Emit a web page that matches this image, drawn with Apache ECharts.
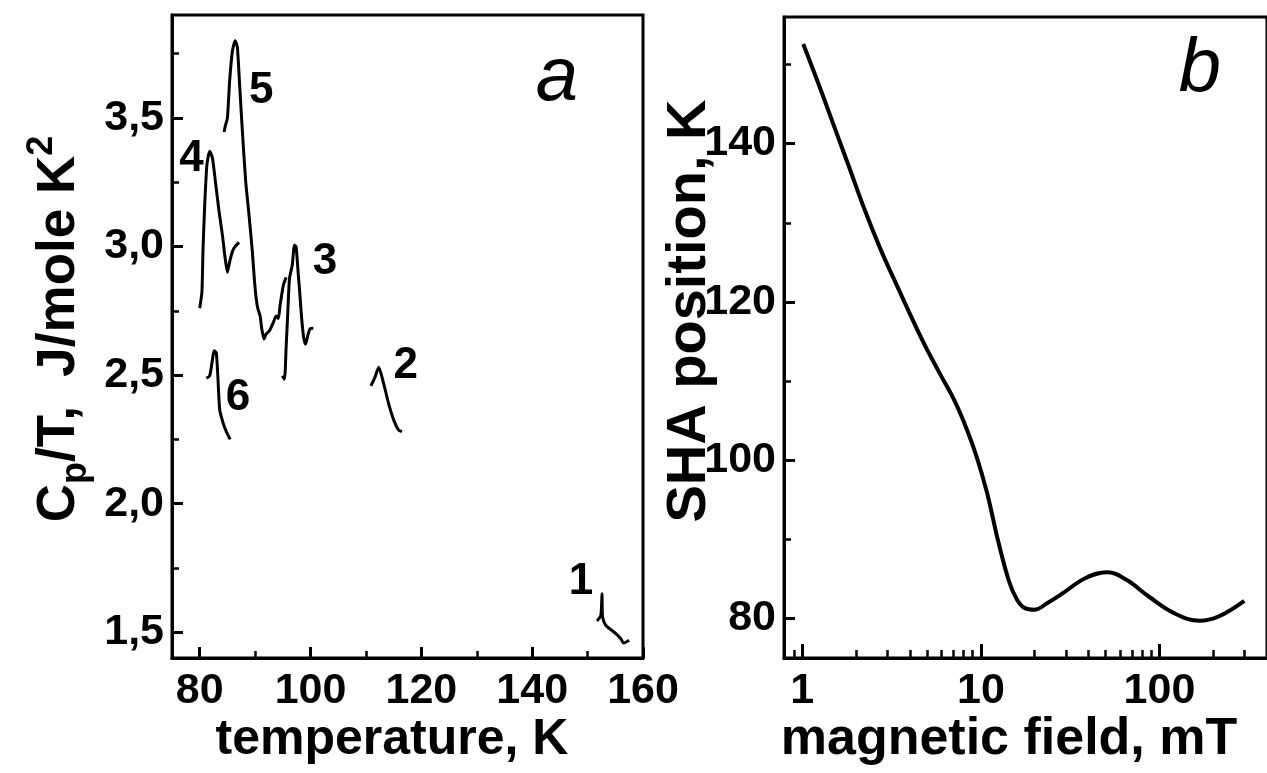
<!DOCTYPE html>
<html><head><meta charset="utf-8">
<script src="https://cdn.jsdelivr.net/npm/echarts@6/dist/echarts.min.js"></script>
<style>html,body{margin:0;padding:0;background:#fff}#c{width:1267px;height:773px}</style>
</head><body><div id="c"></div>
<script>
// ---- Panel a: Cp/T vs temperature ----
const c1T = [151.7,152.4,152.6,152.7,153.3,154.2,155.1,156.0,156.5,157.5];
const c1V = [1.544,1.566,1.65,1.56,1.527,1.51,1.495,1.475,1.458,1.469];
const c2T = [110.9,111.6,112.3,113.3,114.2,115.1,115.9,116.5];
const c2V = [2.458,2.49,2.53,2.458,2.38,2.32,2.286,2.28];
const c3T = [94.9,95.3,95.6,95.9,96.2,96.7,97.1,97.4,97.8,98.0,98.4,98.8,99.1,99.5,99.9,100.5];
const c3V = [2.497,2.484,2.61,2.745,2.875,2.927,3.005,2.999,2.888,2.836,2.72,2.64,2.62,2.653,2.68,2.682];
const c4T = [80.0,80.4,80.6,80.9,81.3,81.8,82.3,82.9,83.5,84.1,84.6,85.0,85.4,85.9,86.4,87.1];
const c4V = [2.76,2.823,2.99,3.16,3.318,3.37,3.344,3.24,3.135,3.044,2.953,2.90,2.94,2.98,3.0,3.016];
const c5T = [84.4,84.6,85.0,85.4,85.9,86.4,86.8,87.2,87.7,88.3,88.9,89.5,89.9,90.2,90.5,90.9,91.2,91.6,92.0,92.6,93.2,93.8,94.2,94.5,95.1,95.6];
const c5V = [3.445,3.467,3.50,3.643,3.76,3.80,3.773,3.63,3.448,3.253,3.122,2.98,2.862,2.797,2.758,2.73,2.68,2.64,2.66,2.673,2.70,2.73,2.72,2.77,2.85,2.88];
const c6T = [81.2,81.8,82.3,82.6,83.0,83.3,83.6,84.2,84.8,85.5];
const c6V = [2.488,2.497,2.56,2.595,2.586,2.484,2.367,2.315,2.28,2.25];
const curveNames = ['1','2','3','4','5','6'];
const labelT = [148.8,117.2,102.6,78.5,91.1,86.9];
const labelV = [1.695,2.536,2.94,3.34,3.607,2.41];
const tMajor = [80,100,120,140,160];
const tMinor = [90,110,130,150];
const cMajor = [1.5,2.0,2.5,3.0,3.5];
const cMinor = [1.75,2.25,2.75,3.25,3.75];

// ---- Panel b: SHA position vs magnetic field ----
const fieldB = [1.012,1.207,1.481,1.818,2.23,2.737,3.32,4.76,5.84,7.16,8.44,9.54,10.79,11.7,12.45,14.37,15.91,17.64,19.94,23.49,28.82,38.37,51.05,65.3,87.1,120.7,167.5,214.1,298.4];
const shaPos = [152.6,148.1,142.65,137.2,131.7,126.7,122.5,114.9,111.1,107.4,103.6,100.2,96.0,92.6,89.9,84.7,82.4,81.3,81.1,81.93,83.19,85.08,85.84,84.88,82.77,80.67,79.71,80.25,82.23];
const bMajor = [1,10,100];
const bMinor = [0.9,2,3,4,5,6,7,8,9,20,30,40,50,60,70,80,90,200,300,400];
const sMajor = [80,100,120,140];
const sMinor = [90,110,130,150];

const FF = 'Liberation Sans';
const zip = (a,b) => a.map((v,i)=>[v,b[i]]);
const curves = [[c1T,c1V],[c2T,c2V],[c3T,c3V],[c4T,c4V],[c5T,c5V],[c6T,c6V]];

function majorX(grid, type, min, max, ticks, len){
  return {gridIndex:grid, type:type, min:min, max:max, position:'bottom',
    axisLine:{onZero:false, lineStyle:{color:'#000', width:3}},
    axisTick:{inside:true, length:len, customValues:ticks, lineStyle:{color:'#000', width:3}},
    axisLabel:{customValues:ticks, color:'#000', fontFamily:FF, fontWeight:'bold', fontSize:43, margin:12, formatter:v=>String(v)},
    splitLine:{show:false}, minorTick:{show:false}};
}
function minorX(grid, type, min, max, ticks, len){
  return {gridIndex:grid, type:type, min:min, max:max, position:'bottom',
    axisLine:{show:false, onZero:false},
    axisTick:{inside:true, length:len, customValues:ticks, lineStyle:{color:'#000', width:2.5}},
    axisLabel:{show:false}, splitLine:{show:false}};
}
function majorY(grid, min, max, ticks, fmt, margin){
  return {gridIndex:grid, type:'value', min:min, max:max, position:'left',
    axisLine:{onZero:false, lineStyle:{color:'#000', width:3}},
    axisTick:{inside:true, length:11, customValues:ticks, lineStyle:{color:'#000', width:3}},
    axisLabel:{customValues:ticks, color:'#000', fontFamily:FF, fontWeight:'bold', fontSize:43, margin:margin, formatter:fmt},
    splitLine:{show:false}};
}
function minorY(grid, min, max, ticks){
  return {gridIndex:grid, type:'value', min:min, max:max, position:'left',
    axisLine:{show:false, onZero:false},
    axisTick:{inside:true, length:7, customValues:ticks, lineStyle:{color:'#000', width:2.5}},
    axisLabel:{show:false}, splitLine:{show:false}};
}

const series = curves.map((c,i)=>({
  type:'line', xAxisIndex:0, yAxisIndex:0, data:zip(c[0],c[1]), showSymbol:false, symbol:'none',
  smooth:0.2, lineStyle:{color:'#000', width:3}, z:3
}));
series.push({
  type:'scatter', xAxisIndex:0, yAxisIndex:0, symbolSize:0, itemStyle:{color:'#000', opacity:1},
  data: curveNames.map((n,i)=>({name:n, value:[labelT[i], labelV[i]]})),
  label:{show:true, position:[0,0], align:'center', verticalAlign:'middle', formatter:'{b}', color:'#000', opacity:1, fontFamily:FF, fontWeight:'bold', fontSize:44},
  emphasis:{disabled:true}, z:4
});
series.push({
  type:'line', xAxisIndex:2, yAxisIndex:2, data:zip(fieldB, shaPos), showSymbol:false, symbol:'none',
  smooth:0.4, lineStyle:{color:'#000', width:4}, z:3
});

const option = {
  animation:false,
  backgroundColor:'#fff',
  grid:[
    {left:172, top:15, width:471, height:643, show:true, borderColor:'#000', borderWidth:3, backgroundColor:'transparent'},
    {left:784, top:17, width:507, height:641, show:true, borderColor:'#000', borderWidth:3, backgroundColor:'transparent'}
  ],
  xAxis:[
    majorX(0,'value',75,160,tMajor,11),
    minorX(0,'value',75,160,tMinor,7),
    majorX(1,'log',0.79,400,bMajor,14),
    minorX(1,'log',0.79,400,bMinor,8)
  ],
  yAxis:[
    majorY(0,1.4,3.9,cMajor, v=>v.toFixed(1).replace('.',','), 8),
    minorY(0,1.4,3.9,cMinor),
    majorY(1,75,156,sMajor, v=>String(v), 8),
    minorY(1,75,156,sMinor)
  ],
  series:series,
  graphic:[
    {type:'text', x:557, y:79, style:{text:'a', fill:'#000', font:'italic 76px "Liberation Sans"', align:'center', verticalAlign:'middle'}},
    {type:'text', x:1200, y:70, style:{text:'b', fill:'#000', font:'italic 76px "Liberation Sans"', align:'center', verticalAlign:'middle'}},
    {type:'text', x:392, y:740, style:{text:'temperature, K', fill:'#000', font:'bold 50px "Liberation Sans"', align:'center', verticalAlign:'middle'}},
    {type:'text', x:1009, y:740, style:{text:'magnetic field, mT', fill:'#000', font:'bold 52px "Liberation Sans"', align:'center', verticalAlign:'middle'}},
    {type:'text', x:690, y:311, rotation:Math.PI/2, style:{text:'SHA position, K', fill:'#000', font:'bold 56px "Liberation Sans"', align:'center', verticalAlign:'middle'}},
    {type:'text', x:59, y:329, rotation:Math.PI/2, style:{
      text:'{m|C}{s|p}{m|/T,  J/mole K}{u|2}', fill:'#000', align:'center', verticalAlign:'middle',
      rich:{
        m:{fontSize:53, fontWeight:'bold', fontFamily:FF, lineHeight:70, verticalAlign:'middle', fill:'#000'},
        s:{fontSize:36, fontWeight:'bold', fontFamily:FF, lineHeight:36, verticalAlign:'bottom', fill:'#000'},
        u:{fontSize:36, fontWeight:'bold', fontFamily:FF, lineHeight:36, verticalAlign:'top', fill:'#000'}
      }}}
  ]
};
const chart = echarts.init(document.getElementById('c'), null, {renderer:'canvas'});
chart.setOption(option);
</script>
</body></html>
